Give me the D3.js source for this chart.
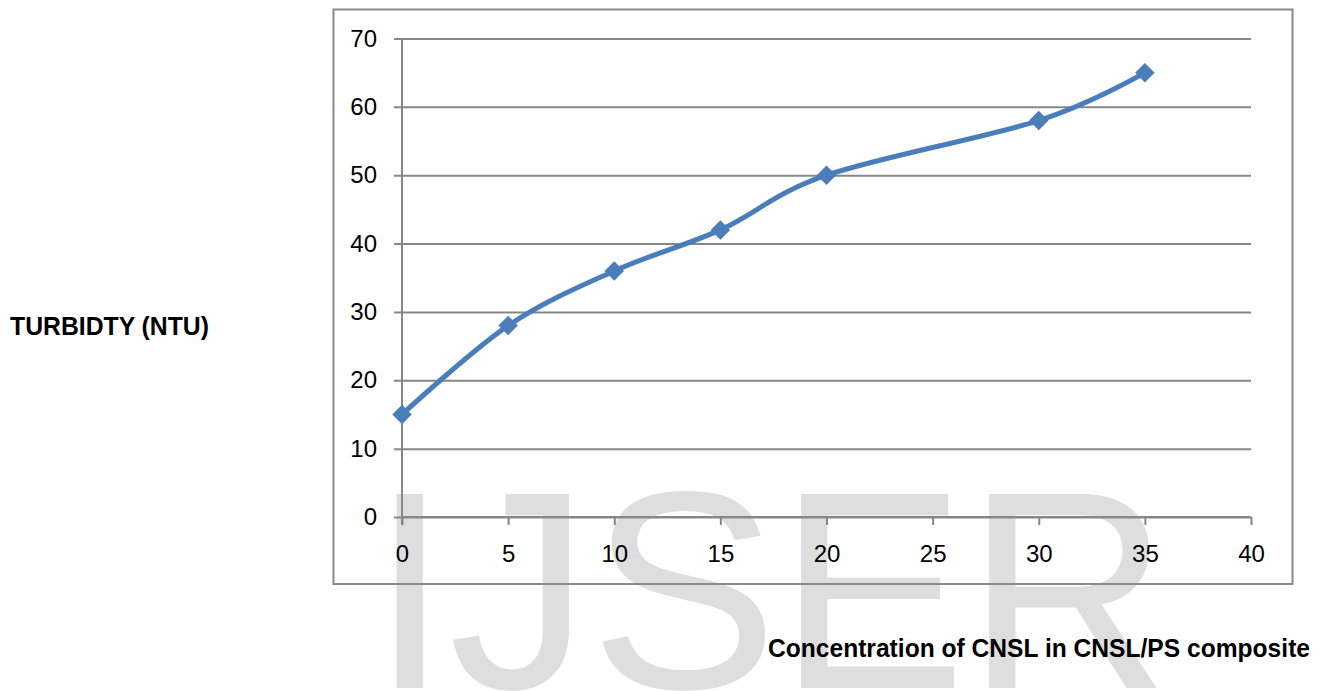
<!DOCTYPE html>
<html><head><meta charset="utf-8">
<script src="https://cdn.jsdelivr.net/npm/d3@7"></script>
<style>body{margin:0;background:#fff;} svg{display:block;}</style>
</head><body>
<svg id="c" width="1319" height="691"></svg>
<script>
const xValues = [0, 5, 10, 15, 20, 30, 35];
const turbidity = [15, 28, 36, 42, 50, 58, 65];
const xTicks = [0, 5, 10, 15, 20, 25, 30, 35, 40];
const yTicks = [0, 10, 20, 30, 40, 50, 60, 70];
const yTitle = "TURBIDTY (NTU)";
const xTitle = "Concentration of CNSL in CNSL/PS composite";
const watermark = "IJSER";

const svg = d3.select("#c");
const font = "'Liberation Sans', Arial, sans-serif";

// watermark behind
svg.append("text").attr("x", 370.5).attr("y", 688)
  .attr("font-family", font).attr("font-size", 282)
  .attr("fill", "#dedede").text(watermark);

// chart frame
svg.append("rect").attr("x", 333.5).attr("y", 9.5).attr("width", 959).attr("height", 574.5)
  .attr("fill", "none").attr("stroke", "#8a8a8a").attr("stroke-width", 2);

const x = d3.scaleLinear().domain([0, 40]).range([402, 1251]);
const y = d3.scaleLinear().domain([0, 70]).range([517, 38.5]);
const gridColor = "#878787";

// gridlines + y ticks
const yAxis = d3.axisLeft(y).tickValues(yTicks).tickSize(-(1251 - 402)).tickSizeOuter(0).tickPadding(25);
const gy = svg.append("g").attr("transform", "translate(402,0)").call(yAxis);
gy.select(".domain").remove();
gy.selectAll(".tick line").attr("x1", -8).attr("stroke", gridColor).attr("stroke-width", 2);
gy.selectAll(".tick text").attr("font-family", font).attr("font-size", 24).attr("fill", "#000");

// y axis line
svg.append("line").attr("x1", 402).attr("x2", 402).attr("y1", y(70)).attr("y2", y(0) + 8)
  .attr("stroke", gridColor).attr("stroke-width", 2);

// x axis
const xAxis = d3.axisBottom(x).tickValues(xTicks).tickSize(8).tickSizeOuter(0).tickPadding(20);
const gx = svg.append("g").attr("transform", `translate(0,${y(0)})`).call(xAxis);
gx.select(".domain").attr("stroke", gridColor).attr("stroke-width", 2).attr("d", `M${x(0)},0H${x(40)}`);
gx.selectAll(".tick line").attr("stroke", gridColor).attr("stroke-width", 2);
gx.selectAll(".tick text").attr("font-family", font).attr("font-size", 24).attr("fill", "#000");

// line
const data = xValues.map((v, i) => ({x: v, y: turbidity[i]}));
const line = d3.line().x(d => x(d.x)).y(d => y(d.y)).curve(d3.curveCardinal.tension(0));
svg.append("path").datum(data).attr("d", line).attr("fill", "none")
  .attr("stroke", "#4a7ebb").attr("stroke-width", 5).attr("stroke-linecap", "round");

// diamond markers
const sym = d3.symbol().type(d3.symbolSquare).size(190);
svg.selectAll(".m").data(data).enter().append("path")
  .attr("d", sym)
  .attr("transform", d => `translate(${x(d.x)},${y(d.y)}) rotate(45)`)
  .attr("fill", "#4a7ebb");

// axis titles
svg.append("text").attr("x", 10).attr("y", 335).attr("font-family", font).attr("font-weight", "bold")
  .attr("font-size", 25).attr("textLength", 199).attr("lengthAdjust", "spacingAndGlyphs").text(yTitle);
svg.append("text").attr("x", 768).attr("y", 657).attr("font-family", font).attr("font-weight", "bold")
  .attr("font-size", 25).attr("textLength", 542).attr("lengthAdjust", "spacingAndGlyphs").text(xTitle);
</script>
</body></html>
